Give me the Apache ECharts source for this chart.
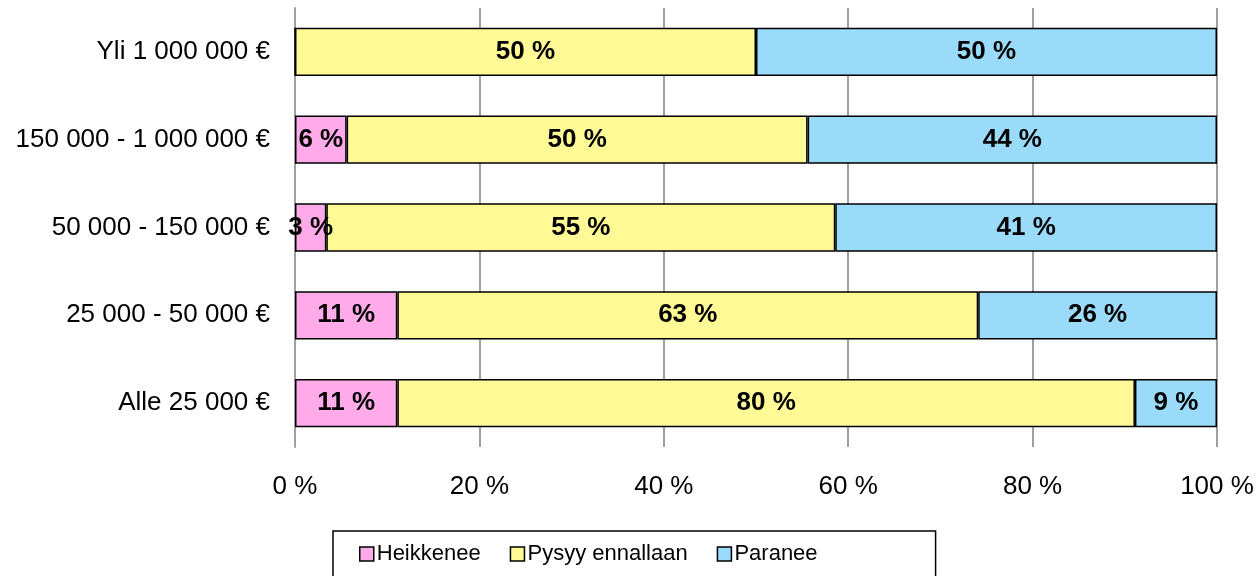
<!DOCTYPE html>
<html>
<head>
<meta charset="utf-8">
<script src="https://cdn.jsdelivr.net/npm/echarts@6/dist/echarts.min.js"></script>
<style>
  html, body { margin: 0; padding: 0; background: #fff; }
  #chart { width: 1260px; height: 576px; }
</style>
</head>
<body>
<div id="chart"></div>
<script>
// categories, bottom to top
const categories = ['Alle 25 000 €', '25 000 - 50 000 €', '50 000 - 150 000 €', '150 000 - 1 000 000 €', 'Yli 1 000 000 €']
const heikkenee = [11.1, 11.1, 3.4, 5.6, 0]
const pysyy = [80.0, 63.0, 55.2, 50.0, 50.0]
const paranee = [8.9, 25.9, 41.4, 44.4, 50.0]
const xTicks = [0, 20, 40, 60, 80, 100]

const font = '"Liberation Sans", Arial, sans-serif'

const makeSeries = (name, data, color) => ({
  name,
  type: 'bar',
  stack: 'total',
  data,
  barWidth: '55%',
  itemStyle: { color, borderColor: '#000', borderWidth: 1.5 },
  label: {
    show: true,
    position: 'inside',
    fontFamily: font,
    fontSize: 26,
    fontWeight: 'bold',
    color: '#000',
    formatter: p => p.value > 0 ? Math.round(p.value) + ' %' : ''
  }
})

const chart = echarts.init(document.getElementById('chart'))
chart.setOption({
  animation: false,
  textStyle: { fontFamily: font },
  grid: { left: 295, right: 43, top: 8, bottom: 129, containLabel: false },
  legend: {
    left: 333,
    top: 531,
    itemWidth: 14,
    itemHeight: 14,
    itemGap: 29,
    icon: 'rect',
    borderColor: '#000',
    borderWidth: 1.5,
    padding: [12, 118, 30, 26],
    textStyle: { fontFamily: font, fontSize: 22, color: '#000', padding: [0, 0, 0, -2] },
    itemStyle: { borderColor: '#000', borderWidth: 1.5 },
    data: ['Heikkenee', 'Pysyy ennallaan', 'Paranee']
  },
  xAxis: {
    type: 'value',
    min: xTicks[0],
    max: xTicks[xTicks.length - 1],
    interval: 20,
    axisLine: { show: false },
    axisTick: { show: false },
    splitLine: { show: true, lineStyle: { color: '#a0a0a0', width: 2 } },
    axisLabel: { fontFamily: font, fontSize: 26, color: '#000', margin: 27, formatter: '{value} %' }
  },
  yAxis: {
    type: 'category',
    data: categories,
    axisLine: { show: true, lineStyle: { color: '#a0a0a0', width: 2 } },
    axisTick: { show: false },
    axisLabel: { fontFamily: font, fontSize: 26, color: '#000', margin: 25 }
  },
  series: [
    makeSeries('Heikkenee', heikkenee, '#ffabe9'),
    makeSeries('Pysyy ennallaan', pysyy, '#fffa96'),
    makeSeries('Paranee', paranee, '#9bdbfa')
  ]
})
</script>
</body>
</html>
